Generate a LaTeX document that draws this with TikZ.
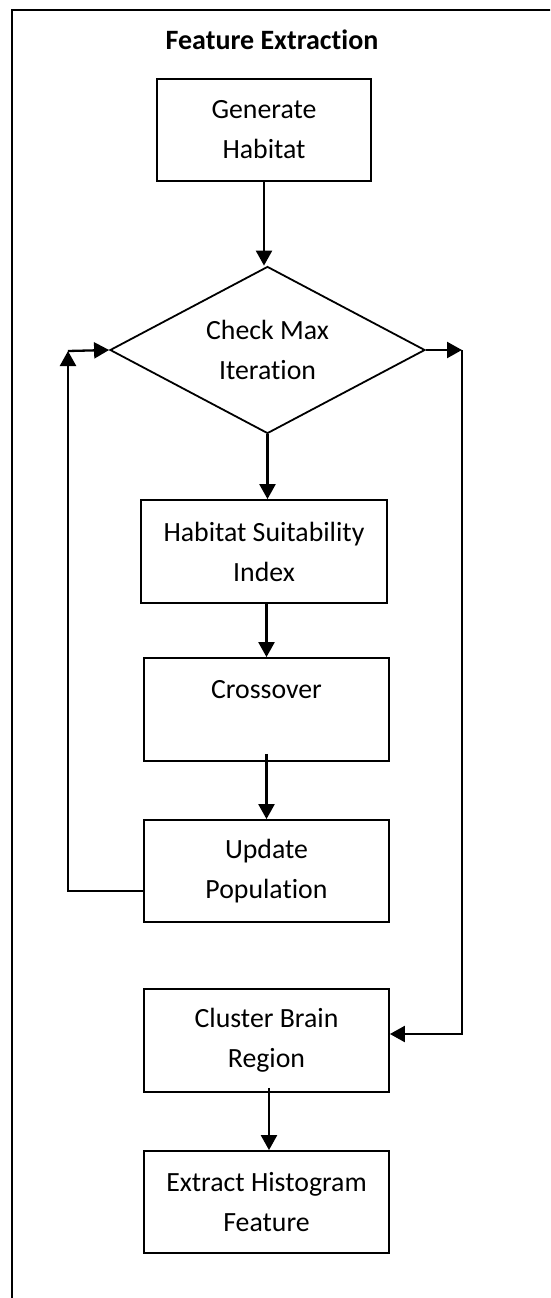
\documentclass[tikz,border=0pt]{standalone}
\usepackage{fontspec}
\setmainfont{Carlito}[Ligatures=NoCommon]
\usetikzlibrary{arrows.meta,shapes.geometric}
\begin{document}
\begin{tikzpicture}[x=1pt,y=-1pt,
  txt/.style={align=center,font=\fontsize{27.8}{40}\selectfont},
  box/.style={txt,draw,line width=1.8pt,minimum width=245pt,minimum height=103pt,inner sep=0pt},
  dia/.style={txt,draw,shape=diamond,line width=1.8pt,minimum width=315pt,minimum height=167pt,inner sep=0pt,aspect=1.886},
  conn/.style={line width=2.3pt,-{Triangle[width=16pt,length=15pt]}}
]
\useasboundingbox (0,0) rectangle (550,1298);
\clip (0,0) rectangle (550,1298);
\draw[line width=1.4pt] (12,1330) -- (12,10) -- (580,10);

\node[font=\bfseries\fontsize{28}{40}\selectfont] (title) at (272,40) {Feature Extraction};
\node[box,minimum width=214pt,minimum height=102pt] (gen) at (264,130) {Generate\\Habitat};
\node[dia] (chk) at (267.5,350) {Check Max\\Iteration};
\node[box,minimum width=246pt] (hsi) at (264,551.5) {Habitat Suitability\\Index};
\node[box] (cro) at (266.5,709.5) {Crossover\\\mbox{}};
\node[box,minimum height=102pt] (upd) at (266.5,871) {Update\\Population};
\node[box] (clu) at (266.5,1040.5) {Cluster Brain\\Region};
\node[box,minimum height=102pt] (ext) at (266.5,1202) {Extract Histogram\\Feature};

\coordinate (lc) at (68,351);
\coordinate (rc) at (462,350);

\draw[conn] (gen.south) -- (gen.south |- chk.north);
\draw[conn] (chk.south) -- (chk.south |- hsi.north);
\draw[conn] (cro.north |- hsi.south) -- (cro.north);
\draw[conn] ([yshift=8pt]cro.south) -- (upd.north);
\draw[conn] ([xshift=2.5pt,yshift=5pt]clu.south) -- ([xshift=2.5pt]ext.north);

\draw[conn] ([yshift=-20pt]upd.west) -| (lc);
\draw[conn] (lc) -- (chk.west);
\draw[conn] (chk.east) -- (rc);
\draw[conn] (rc) |- ([yshift=6.5pt]clu.east);
\end{tikzpicture}
\end{document}
